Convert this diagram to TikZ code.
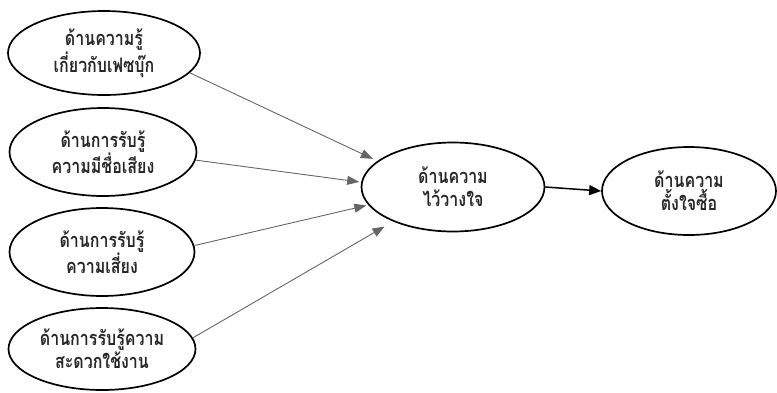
\documentclass[tikz,border=0pt]{standalone}
\usepackage{fontspec}
\newfontfamily\thaifont[Script=Thai,FakeStretch=0.8]{Loma}
\usetikzlibrary{shapes.geometric,arrows.meta}
\begin{document}
\begin{tikzpicture}[x=1pt,y=-1pt,
  oval/.style={ellipse,draw=black,line width=1.7pt,inner sep=0pt,align=center,
    text=black!85,font=\thaifont\bfseries\fontsize{20}{23}\selectfont},
  thin/.style={draw=black!60,line width=0.9pt,-{Triangle[length=12pt,width=9pt]},
    shorten >=#1},
  thin/.default=2pt,
  thick/.style={draw=black,line width=1.5pt,-{Triangle[length=12pt,width=10pt]}}]
\useasboundingbox (0,0) rectangle (777,392);
\node[oval,minimum width=192pt,minimum height=84pt] (e1) at (104,53) {ด้านความรู้\\เกี่ยวกับเฟซบุ๊ก};
\node[oval,minimum width=187pt,minimum height=88pt] (e2) at (103,152) {ด้านการรับรู้\\ความมีชื่อเสียง};
\node[oval,minimum width=185pt,minimum height=88pt] (e3) at (102,252) {ด้านการรับรู้\\ความเสี่ยง};
\node[oval,minimum width=187pt,minimum height=82pt] (e4) at (102,349) {ด้านการรับรู้ความ\\สะดวกใช้งาน};
\node[oval,minimum width=183pt,minimum height=89pt] (c) at (453,187) {ด้านความ\\ไว้วางใจ};
\node[oval,minimum width=174pt,minimum height=88pt] (r) at (689,191) {ด้านความ\\ตั้งใจซื้อ};
\draw[thin=5pt] (e1.-13) -- (c.161);
\draw[thin=2pt] (e2.-5) -- (c.177);
\draw[thin=2pt] (e3.4) -- (c.-168);
\draw[thin=10pt] (e4.7) -- (c.-150);
\draw[thick] (c.east) -- (r.west);
\end{tikzpicture}
\end{document}
